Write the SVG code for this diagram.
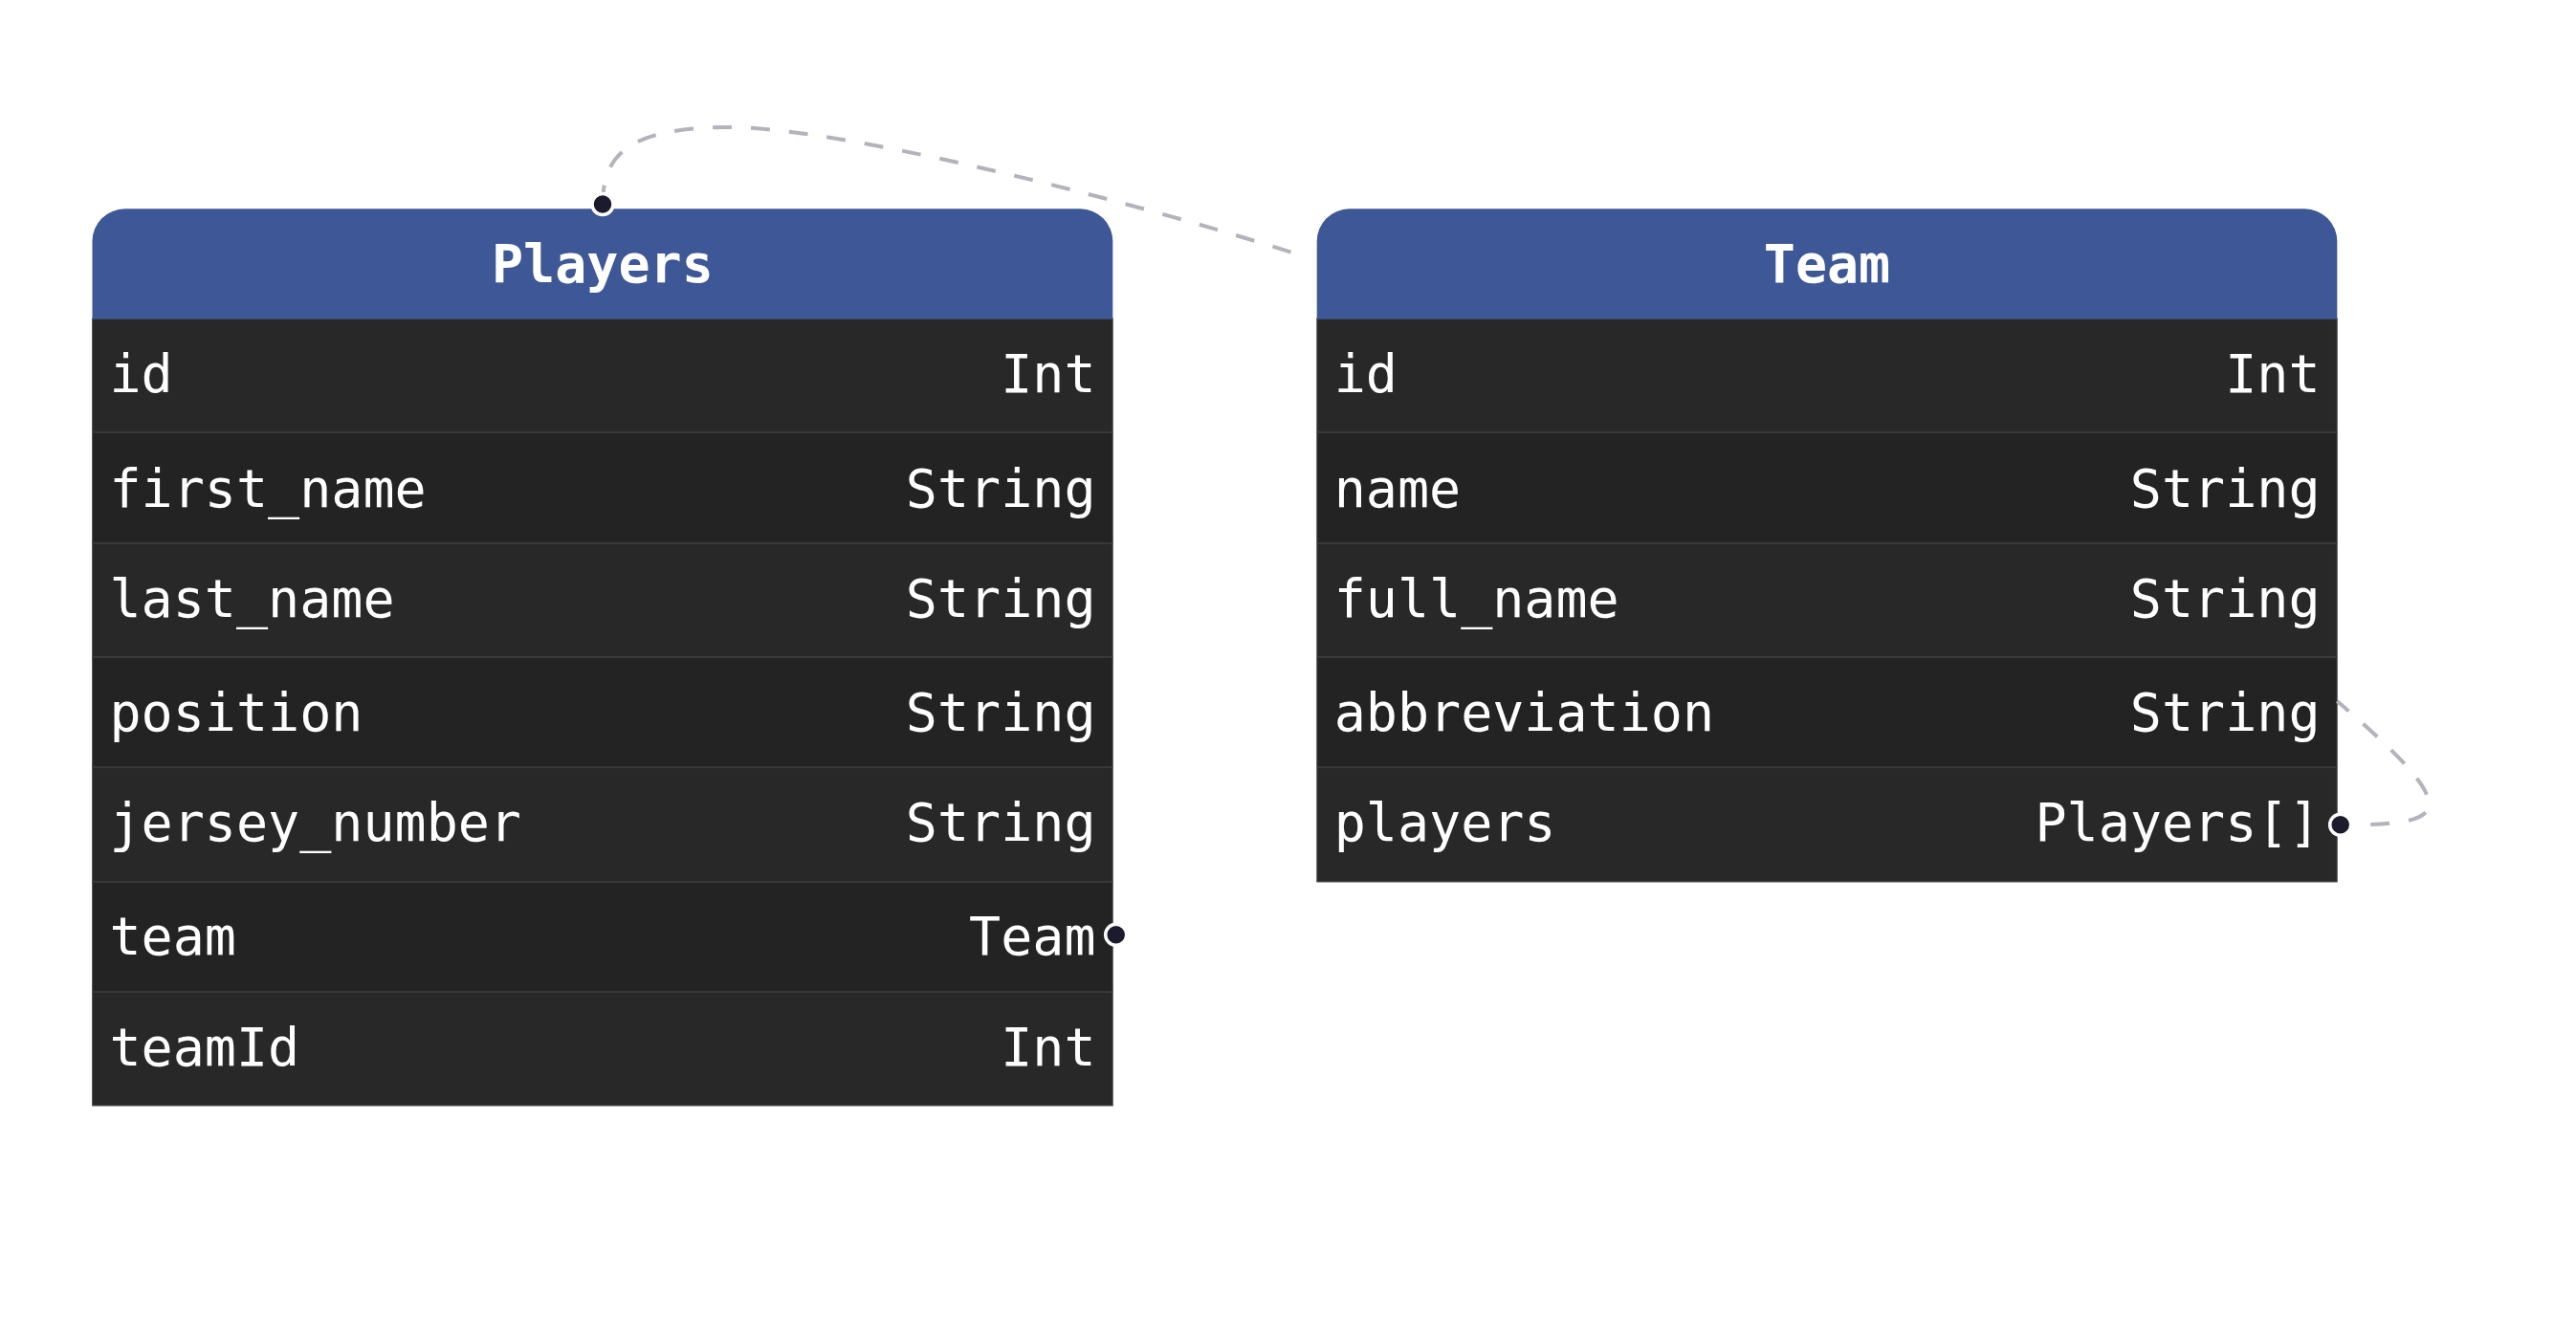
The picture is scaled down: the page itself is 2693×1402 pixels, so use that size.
<svg xmlns="http://www.w3.org/2000/svg" width="2693" height="1402" viewBox="0 0 2693 1402">
<style>
  .hdr { fill: #3e5796; }
  .body { stroke: #5a5a5a; stroke-width: 1; }
  .rowA { fill: #282828; }
  .rowB { fill: #232323; }
  .sep { stroke: #3f3f3f; stroke-width: 1.5; }
  .title { font-family: "DejaVu Sans Mono", monospace; font-weight: bold; font-size: 55px; fill: #ffffff; text-anchor: middle; }
  .fname { font-family: "DejaVu Sans Mono", monospace; font-size: 55px; fill: #ffffff; }
  .ftype { font-family: "DejaVu Sans Mono", monospace; font-size: 55px; fill: #ffffff; text-anchor: end; }
  .edge { fill: none; stroke: #b3b3bb; stroke-width: 4; stroke-dasharray: 20 20; }
  .dot { fill: #1c1b2e; stroke: #ffffff; stroke-width: 3.5; }
</style>
<defs>
  <marker id="dotStart" markerUnits="userSpaceOnUse" markerWidth="30" markerHeight="30" refX="15" refY="15" orient="auto">
    <circle cx="15" cy="15" r="11" class="dot"/>
  </marker>
</defs>
<rect width="2693" height="1402" fill="#ffffff"/>

<g id="node-Players">
  <rect class="rowA" x="96.5" y="333" width="1066.8" height="119"/>
  <rect class="rowB" x="96.5" y="452" width="1066.8" height="116"/>
  <rect class="rowA" x="96.5" y="568" width="1066.8" height="119"/>
  <rect class="rowB" x="96.5" y="687" width="1066.8" height="115"/>
  <rect class="rowA" x="96.5" y="802" width="1066.8" height="120"/>
  <rect class="rowB" x="96.5" y="922" width="1066.8" height="115"/>
  <rect class="rowA" x="96.5" y="1037" width="1066.8" height="119"/>
  <rect class="body" fill="none" x="96.5" y="333" width="1066.8" height="823"/>
  <path class="hdr" d="M96.5,333.5 V252.3 A34,34 0 0 1 130.5,218.3 H1129.3 A34,34 0 0 1 1163.3,252.3 V333.5 Z"/>
  <line class="sep" x1="96.5" y1="452" x2="1163.3" y2="452"/>
  <line class="sep" x1="96.5" y1="568" x2="1163.3" y2="568"/>
  <line class="sep" x1="96.5" y1="687" x2="1163.3" y2="687"/>
  <line class="sep" x1="96.5" y1="802" x2="1163.3" y2="802"/>
  <line class="sep" x1="96.5" y1="922" x2="1163.3" y2="922"/>
  <line class="sep" x1="96.5" y1="1037" x2="1163.3" y2="1037"/>
  <text class="title" x="629.9" y="295">Players</text>
  <text class="fname" x="114.5" y="410">id</text><text class="ftype" x="1145.5" y="410">Int</text>
  <text class="fname" x="114.5" y="530">first_name</text><text class="ftype" x="1145.5" y="530">String</text>
  <text class="fname" x="114.5" y="645">last_name</text><text class="ftype" x="1145.5" y="645">String</text>
  <text class="fname" x="114.5" y="764">position</text><text class="ftype" x="1145.5" y="764">String</text>
  <text class="fname" x="114.5" y="879">jersey_number</text><text class="ftype" x="1145.5" y="879">String</text>
  <text class="fname" x="114.5" y="998">team</text><text class="ftype" x="1145.5" y="998">Team</text>
  <text class="fname" x="114.5" y="1114">teamId</text><text class="ftype" x="1145.5" y="1114">Int</text>
</g>

<g id="node-Team">
  <rect class="rowA" x="1376.7" y="333" width="1066.6" height="119"/>
  <rect class="rowB" x="1376.7" y="452" width="1066.6" height="116"/>
  <rect class="rowA" x="1376.7" y="568" width="1066.6" height="119"/>
  <rect class="rowB" x="1376.7" y="687" width="1066.6" height="115"/>
  <rect class="rowA" x="1376.7" y="802" width="1066.6" height="120"/>
  <rect class="body" fill="none" x="1376.7" y="333" width="1066.6" height="589"/>
  <path class="hdr" d="M1376.7,333.5 V252.3 A34,34 0 0 1 1410.7,218.3 H2409.3 A34,34 0 0 1 2443.3,252.3 V333.5 Z"/>
  <line class="sep" x1="1376.7" y1="452" x2="2443.3" y2="452"/>
  <line class="sep" x1="1376.7" y1="568" x2="2443.3" y2="568"/>
  <line class="sep" x1="1376.7" y1="687" x2="2443.3" y2="687"/>
  <line class="sep" x1="1376.7" y1="802" x2="2443.3" y2="802"/>
  <text class="title" x="1910" y="295">Team</text>
  <text class="fname" x="1394.7" y="410">id</text><text class="ftype" x="2425.5" y="410">Int</text>
  <text class="fname" x="1394.7" y="530">name</text><text class="ftype" x="2425.5" y="530">String</text>
  <text class="fname" x="1394.7" y="645">full_name</text><text class="ftype" x="2425.5" y="645">String</text>
  <text class="fname" x="1394.7" y="764">abbreviation</text><text class="ftype" x="2425.5" y="764">String</text>
  <text class="fname" x="1394.7" y="879">players</text><text class="ftype" x="2425.5" y="879">Players[]</text>
</g>

<g id="connectors">
  <path class="edge" marker-start="url(#dotStart)" d="M630,213.5 C630,160 660,133 763,133 C870,133 1150,200 1357,266"/>
  <path class="edge" style="stroke-dashoffset:8.7" marker-start="url(#dotStart)" d="M2446.7,862.3 C2557,862.3 2583.6,853.3 2443.3,733"/>
  <circle class="dot" cx="1166.7" cy="977.3" r="11"/>
</g>
</svg>
